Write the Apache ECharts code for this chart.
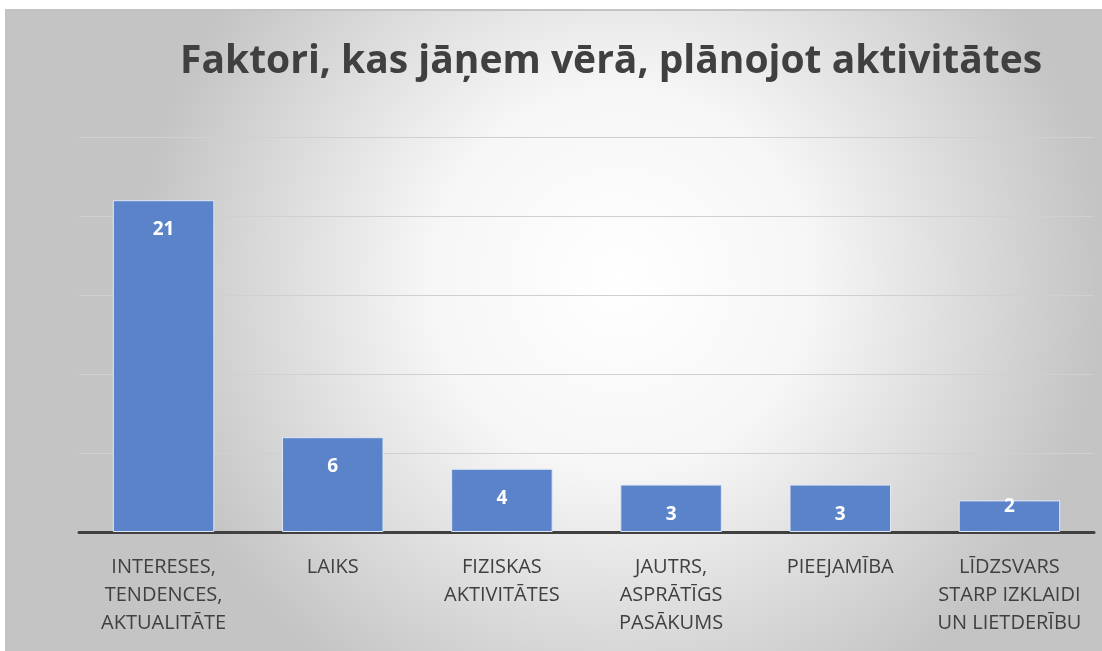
<!DOCTYPE html>
<html>
<head>
<meta charset="utf-8">
<script src="https://cdn.jsdelivr.net/npm/echarts@6/dist/echarts.min.js"></script>
<style>
  html, body { margin: 0; padding: 0; background: #fff; }
  #chart {
    position: absolute; left: 5px; top: 9px;
    width: 1097px; height: 642px;
    border-top: 2px solid #c3c3c3; border-left: 2px solid #c3c3c3;
    box-sizing: border-box;
  }
</style>
</head>
<body>
<div id="chart"></div>
<script>
// kategorijas un vērtības
var categories = [
  'INTERESES,\nTENDENCES,\nAKTUALITĀTE',
  'LAIKS',
  'FIZISKAS\nAKTIVITĀTES',
  'JAUTRS,\nASPRĀTĪGS\nPASĀKUMS',
  'PIEEJAMĪBA',
  'LĪDZSVARS\nSTARP IZKLAIDI\nUN LIETDERĪBU'
];
var counts = [21, 6, 4, 3, 3, 2];

var chart = echarts.init(document.getElementById('chart'));

var option = {
  backgroundColor: {
    type: 'radial', x: 0.56, y: 0.42, r: 0.75,
    colorStops: [
      { offset: 0, color: '#ffffff' },
      { offset: 0.4, color: '#f6f6f6' },
      { offset: 1, color: '#c4c4c4' }
    ]
  },
  title: {
    text: 'Faktori, kas jāņem vērā, plānojot aktivitātes',
    left: 168,
    top: 26,
    textStyle: {
      fontFamily: 'Open Sans',
      fontWeight: 'bold',
      fontSize: 39,
      color: '#404040'
    }
  },
  grid: { left: 72, right: 8, top: 126, bottom: 119 },
  xAxis: {
    type: 'category',
    data: categories,
    axisTick: { show: false },
    axisLine: { lineStyle: { color: '#404040', width: 3 } },
    axisLabel: {
      interval: 0,
      color: '#404040',
      fontFamily: 'Open Sans',
      fontSize: 20,
      lineHeight: 28,
      margin: 21
    }
  },
  yAxis: {
    type: 'value',
    min: 0, max: 25, interval: 5,
    axisLabel: { show: false },
    axisLine: { show: false },
    axisTick: { show: false },
    splitLine: { lineStyle: { color: '#d0d0d0', width: 1 } }
  },
  series: [{
    type: 'bar',
    barCategoryGap: '40%',
    data: counts.map(function (v) {
      var item = { value: v };
      if (v < 3) item.label = { distance: -3 };
      return item;
    }),
    itemStyle: {
      color: '#5b83ca',
      borderColor: '#dfe6f4',
      borderWidth: 1
    },
    label: {
      show: true,
      position: 'insideTop',
      distance: 20,
      color: '#ffffff',
      fontFamily: 'Open Sans',
      fontWeight: 'bold',
      fontSize: 19
    }
  }]
};

chart.setOption(option);
</script>
</body>
</html>
